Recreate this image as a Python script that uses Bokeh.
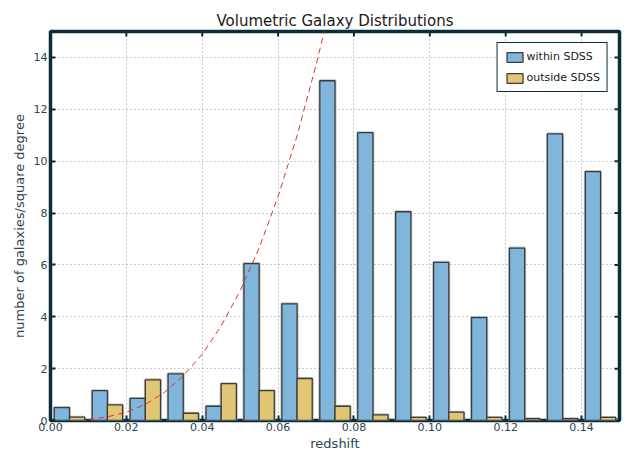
from bokeh.plotting import figure
from bokeh.models import (ColumnDataSource, Range1d, FixedTicker,
                          Legend, LegendItem, NumeralTickFormatter)
from bokeh.embed import file_html
from bokeh.resources import INLINE

# ---- data ----
bin_left = [0.00, 0.01, 0.02, 0.03, 0.04, 0.05, 0.06, 0.07,
            0.08, 0.09, 0.10, 0.11, 0.12, 0.13, 0.14]
within_sdss = [0.50, 1.15, 0.85, 1.80, 0.55, 6.05, 4.50, 13.10,
               11.10, 8.05, 6.10, 3.97, 6.65, 11.05, 9.60]
outside_sdss = [0.13, 0.60, 1.57, 0.28, 1.42, 1.15, 1.62, 0.55,
                0.22, 0.12, 0.32, 0.12, 0.07, 0.07, 0.12]
curve_z = [0.010, 0.015, 0.020, 0.025, 0.030, 0.035, 0.040, 0.045,
           0.050, 0.055, 0.060, 0.065, 0.070, 0.0725]
curve_n = [0.04, 0.14, 0.32, 0.62, 1.08, 1.72, 2.56, 3.65,
           5.00, 6.65, 8.64, 10.98, 13.70, 15.20]
x_ticks = [0.00, 0.02, 0.04, 0.06, 0.08, 0.10, 0.12, 0.14]
y_ticks = [0, 2, 4, 6, 8, 10, 12, 14]

X_MAX = 0.15
Y_MAX = 15
OFF = 0.001
BAR = 0.004

DARK = "#0b2d3a"
TXT = "#2b4550"
FONT = "DejaVu Sans"

blue = ColumnDataSource(dict(
    left=[b + OFF for b in bin_left],
    right=[b + OFF + BAR for b in bin_left],
    top=within_sdss, bottom=[0] * len(bin_left)))
yellow = ColumnDataSource(dict(
    left=[b + OFF + BAR for b in bin_left],
    right=[b + OFF + 2 * BAR for b in bin_left],
    top=outside_sdss, bottom=[0] * len(bin_left)))

p = figure(width=623, height=453, output_backend="svg", toolbar_location=None,
           x_range=Range1d(0, X_MAX), y_range=Range1d(0, Y_MAX),
           min_border_left=50, min_border_right=4, min_border_top=31,
           min_border_bottom=30)

p.title.text = "Volumetric Galaxy Distributions"
p.title.text_font = FONT
p.title.text_font_size = "15px"
p.title.text_font_style = "normal"
p.title.text_color = "#1a1a1a"
p.title.align = "center"
p.title.standoff = 4

p.outline_line_color = DARK
p.outline_line_width = 3.5
p.outline_line_alpha = 1.0
p.background_fill_color = "white"
p.border_fill_color = "white"

for g, t in ((p.xgrid, x_ticks), (p.ygrid, y_ticks)):
    g.ticker = FixedTicker(ticks=t)
    g.grid_line_color = "#7f979e"
    g.grid_line_dash = "1 3"
    g.grid_line_width = 1


def style_axis(ax, ticks):
    ax.ticker = FixedTicker(ticks=ticks)
    ax.axis_line_color = None
    ax.major_tick_in = 5
    ax.major_tick_out = 0
    ax.major_tick_line_color = DARK
    ax.major_tick_line_width = 2
    ax.minor_tick_line_color = None
    ax.major_label_text_font = FONT
    ax.major_label_text_font_size = "11px"
    ax.major_label_text_color = TXT
    ax.major_label_standoff = 3
    ax.axis_label_text_font = FONT
    ax.axis_label_text_font_size = "13px"
    ax.axis_label_text_font_style = "normal"
    ax.axis_label_text_color = TXT
    ax.axis_label_standoff = 4


style_axis(p.xaxis[0], x_ticks)
p.xaxis[0].formatter = NumeralTickFormatter(format="0.00")
p.xaxis[0].axis_label = "redshift"
p.xaxis[0].major_label_standoff = 2
p.xaxis[0].axis_label_standoff = 2
style_axis(p.yaxis[0], y_ticks)
p.yaxis[0].axis_label = "number of galaxies/square degree"

# inward ticks on the top and right spines (tick length ~5 px in data units)
tick_dy = Y_MAX * 5 / 390
tick_dx = X_MAX * 5 / 568
p.segment(x0=x_ticks, x1=x_ticks, y0=[Y_MAX] * len(x_ticks),
          y1=[Y_MAX - tick_dy] * len(x_ticks), line_color=DARK, line_width=2)
p.segment(x0=[X_MAX] * len(y_ticks), x1=[X_MAX - tick_dx] * len(y_ticks),
          y0=y_ticks, y1=y_ticks, line_color=DARK, line_width=2)

# bar shadows
for src in (blue, yellow):
    p.quad(left="left", right="right", top="top", bottom="bottom", source=src,
           fill_color=None, line_color="#9a9a9a", line_width=3, line_alpha=0.6)

rb = p.quad(left="left", right="right", top="top", bottom="bottom", source=blue,
            fill_color="#80b6dc", line_color="#3c3c3c", line_width=1.3)
ry = p.quad(left="left", right="right", top="top", bottom="bottom", source=yellow,
            fill_color="#e1c675", line_color="#3c3c3c", line_width=1.3)

p.line(curve_z, curve_n, line_color="#e8312f", line_width=1, line_dash="6 4")

legend = Legend(items=[LegendItem(label="within SDSS", renderers=[rb]),
                       LegendItem(label="outside SDSS", renderers=[ry])],
                location="top_right")
legend.label_text_font = FONT
legend.label_text_font_size = "11px"
legend.label_text_color = "#1a1a1a"
legend.border_line_color = DARK
legend.border_line_width = 1
legend.border_line_alpha = 1
legend.padding = 7
legend.spacing = 8
legend.glyph_width = 20
legend.glyph_height = 12
legend.label_standoff = 2
legend.margin = 11
legend.label_height = 12
p.add_layout(legend)

open("out.html", "w").write(file_html(p, INLINE))
